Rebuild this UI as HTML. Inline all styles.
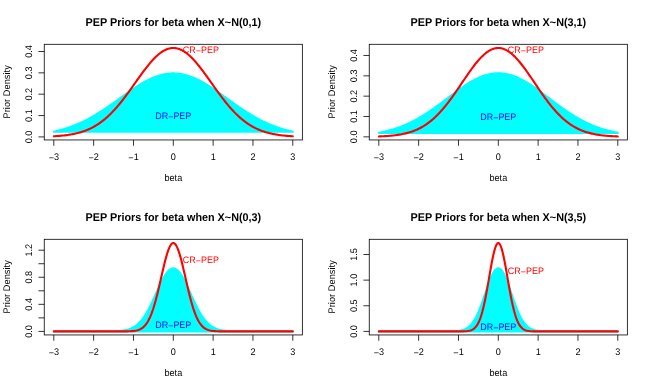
<!DOCTYPE html>
<html><head><meta charset="utf-8"><title>PEP Priors</title>
<style>
html,body{margin:0;padding:0;background:#fff;overflow:hidden;}
svg{display:block;will-change:transform;}
text{font-family:"Liberation Sans",sans-serif;fill:#000;text-rendering:geometricPrecision;}
.t{font-size:10.82px;font-weight:bold;text-anchor:middle;}
.a{font-size:9.1px;text-anchor:middle;}
</style></head><body>
<svg width="650" height="390" viewBox="0 0 650 390">
<rect width="650" height="390" fill="#fff"/>
<g transform="translate(0,0)">
<polygon points="53.81,131.69 54.81,131.47 55.80,131.24 56.80,131.01 57.79,130.77 58.79,130.51 59.78,130.26 60.78,129.99 61.78,129.71 62.77,129.43 63.77,129.14 64.76,128.84 65.76,128.53 66.75,128.21 67.75,127.88 68.75,127.54 69.74,127.20 70.74,126.84 71.73,126.48 72.73,126.10 73.72,125.72 74.72,125.33 75.72,124.92 76.71,124.51 77.71,124.09 78.70,123.66 79.70,123.22 80.70,122.76 81.69,122.30 82.69,121.83 83.68,121.35 84.68,120.86 85.67,120.36 86.67,119.85 87.67,119.33 88.66,118.80 89.66,118.26 90.65,117.71 91.65,117.15 92.64,116.58 93.64,116.01 94.64,115.42 95.63,114.83 96.63,114.23 97.62,113.62 98.62,113.00 99.61,112.37 100.61,111.74 101.61,111.09 102.60,110.44 103.60,109.79 104.59,109.13 105.59,108.46 106.58,107.78 107.58,107.10 108.58,106.42 109.57,105.73 110.57,105.03 111.56,104.33 112.56,103.63 113.56,102.92 114.55,102.21 115.55,101.50 116.54,100.78 117.54,100.07 118.53,99.35 119.53,98.63 120.53,97.92 121.52,97.20 122.52,96.48 123.51,95.77 124.51,95.05 125.50,94.34 126.50,93.63 127.50,92.93 128.49,92.23 129.49,91.53 130.48,90.84 131.48,90.16 132.47,89.48 133.47,88.81 134.47,88.14 135.46,87.49 136.46,86.84 137.45,86.20 138.45,85.57 139.44,84.95 140.44,84.34 141.44,83.75 142.43,83.16 143.43,82.59 144.42,82.03 145.42,81.48 146.41,80.95 147.41,80.43 148.41,79.93 149.40,79.45 150.40,78.97 151.39,78.52 152.39,78.08 153.39,77.66 154.38,77.26 155.38,76.87 156.37,76.51 157.37,76.16 158.36,75.83 159.36,75.53 160.36,75.24 161.35,74.97 162.35,74.72 163.34,74.49 164.34,74.29 165.33,74.10 166.33,73.94 167.33,73.80 168.32,73.68 169.32,73.58 170.31,73.50 171.31,73.44 172.30,73.41 173.30,73.40 174.30,73.41 175.29,73.44 176.29,73.50 177.28,73.58 178.28,73.68 179.27,73.80 180.27,73.94 181.27,74.10 182.26,74.29 183.26,74.49 184.25,74.72 185.25,74.97 186.24,75.24 187.24,75.53 188.24,75.83 189.23,76.16 190.23,76.51 191.22,76.87 192.22,77.26 193.22,77.66 194.21,78.08 195.21,78.52 196.20,78.97 197.20,79.45 198.19,79.93 199.19,80.43 200.19,80.95 201.18,81.48 202.18,82.03 203.17,82.59 204.17,83.16 205.16,83.75 206.16,84.34 207.16,84.95 208.15,85.57 209.15,86.20 210.14,86.84 211.14,87.49 212.13,88.14 213.13,88.81 214.13,89.48 215.12,90.16 216.12,90.84 217.11,91.53 218.11,92.23 219.10,92.93 220.10,93.63 221.10,94.34 222.09,95.05 223.09,95.77 224.08,96.48 225.08,97.20 226.07,97.92 227.07,98.63 228.07,99.35 229.06,100.07 230.06,100.78 231.05,101.50 232.05,102.21 233.05,102.92 234.04,103.63 235.04,104.33 236.03,105.03 237.03,105.73 238.02,106.42 239.02,107.10 240.02,107.78 241.01,108.46 242.01,109.13 243.00,109.79 244.00,110.44 244.99,111.09 245.99,111.74 246.99,112.37 247.98,113.00 248.98,113.62 249.97,114.23 250.97,114.83 251.96,115.42 252.96,116.01 253.96,116.58 254.95,117.15 255.95,117.71 256.94,118.26 257.94,118.80 258.93,119.33 259.93,119.85 260.93,120.36 261.92,120.86 262.92,121.35 263.91,121.83 264.91,122.30 265.90,122.76 266.90,123.22 267.90,123.66 268.89,124.09 269.89,124.51 270.88,124.92 271.88,125.33 272.88,125.72 273.87,126.10 274.87,126.48 275.86,126.84 276.86,127.20 277.85,127.54 278.85,127.88 279.85,128.21 280.84,128.53 281.84,128.84 282.83,129.14 283.83,129.43 284.82,129.71 285.82,129.99 286.82,130.26 287.81,130.51 288.81,130.77 289.80,131.01 290.80,131.24 291.79,131.47 292.79,131.69" fill="#00ffff" stroke="#00ffff" stroke-width="2.1" stroke-linejoin="round"/>
<polyline points="53.81,136.24 54.81,136.18 55.80,136.12 56.80,136.06 57.79,135.99 58.79,135.91 59.78,135.83 60.78,135.75 61.78,135.66 62.77,135.56 63.77,135.45 64.76,135.34 65.76,135.22 66.75,135.10 67.75,134.96 68.75,134.82 69.74,134.66 70.74,134.50 71.73,134.33 72.73,134.14 73.72,133.95 74.72,133.74 75.72,133.52 76.71,133.29 77.71,133.04 78.70,132.78 79.70,132.51 80.70,132.22 81.69,131.92 82.69,131.60 83.68,131.26 84.68,130.91 85.67,130.53 86.67,130.14 87.67,129.73 88.66,129.30 89.66,128.85 90.65,128.38 91.65,127.89 92.64,127.38 93.64,126.84 94.64,126.28 95.63,125.70 96.63,125.09 97.62,124.46 98.62,123.80 99.61,123.12 100.61,122.41 101.61,121.68 102.60,120.92 103.60,120.13 104.59,119.32 105.59,118.48 106.58,117.62 107.58,116.72 108.58,115.80 109.57,114.86 110.57,113.88 111.56,112.88 112.56,111.85 113.56,110.80 114.55,109.72 115.55,108.62 116.54,107.49 117.54,106.33 118.53,105.16 119.53,103.96 120.53,102.73 121.52,101.49 122.52,100.23 123.51,98.94 124.51,97.64 125.50,96.33 126.50,94.99 127.50,93.64 128.49,92.28 129.49,90.91 130.48,89.53 131.48,88.14 132.47,86.74 133.47,85.34 134.47,83.93 135.46,82.52 136.46,81.12 137.45,79.71 138.45,78.32 139.44,76.92 140.44,75.54 141.44,74.17 142.43,72.81 143.43,71.46 144.42,70.13 145.42,68.83 146.41,67.54 147.41,66.28 148.41,65.04 149.40,63.83 150.40,62.65 151.39,61.51 152.39,60.39 153.39,59.32 154.38,58.28 155.38,57.28 156.37,56.33 157.37,55.42 158.36,54.56 159.36,53.74 160.36,52.97 161.35,52.25 162.35,51.59 163.34,50.98 164.34,50.42 165.33,49.92 166.33,49.47 167.33,49.08 168.32,48.75 169.32,48.48 170.31,48.27 171.31,48.12 172.30,48.03 173.30,48.00 174.30,48.03 175.29,48.12 176.29,48.27 177.28,48.48 178.28,48.75 179.27,49.08 180.27,49.47 181.27,49.92 182.26,50.42 183.26,50.98 184.25,51.59 185.25,52.25 186.24,52.97 187.24,53.74 188.24,54.56 189.23,55.42 190.23,56.33 191.22,57.28 192.22,58.28 193.22,59.32 194.21,60.39 195.21,61.51 196.20,62.65 197.20,63.83 198.19,65.04 199.19,66.28 200.19,67.54 201.18,68.83 202.18,70.13 203.17,71.46 204.17,72.81 205.16,74.17 206.16,75.54 207.16,76.92 208.15,78.32 209.15,79.71 210.14,81.12 211.14,82.52 212.13,83.93 213.13,85.34 214.13,86.74 215.12,88.14 216.12,89.53 217.11,90.91 218.11,92.28 219.10,93.64 220.10,94.99 221.10,96.33 222.09,97.64 223.09,98.94 224.08,100.23 225.08,101.49 226.07,102.73 227.07,103.96 228.07,105.16 229.06,106.33 230.06,107.49 231.05,108.62 232.05,109.72 233.05,110.80 234.04,111.85 235.04,112.88 236.03,113.88 237.03,114.86 238.02,115.80 239.02,116.72 240.02,117.62 241.01,118.48 242.01,119.32 243.00,120.13 244.00,120.92 244.99,121.68 245.99,122.41 246.99,123.12 247.98,123.80 248.98,124.46 249.97,125.09 250.97,125.70 251.96,126.28 252.96,126.84 253.96,127.38 254.95,127.89 255.95,128.38 256.94,128.85 257.94,129.30 258.93,129.73 259.93,130.14 260.93,130.53 261.92,130.91 262.92,131.26 263.91,131.60 264.91,131.92 265.90,132.22 266.90,132.51 267.90,132.78 268.89,133.04 269.89,133.29 270.88,133.52 271.88,133.74 272.88,133.95 273.87,134.14 274.87,134.33 275.86,134.50 276.86,134.66 277.85,134.82 278.85,134.96 279.85,135.10 280.84,135.22 281.84,135.34 282.83,135.45 283.83,135.56 284.82,135.66 285.82,135.75 286.82,135.83 287.81,135.91 288.81,135.99 289.80,136.06 290.80,136.12 291.79,136.18 292.79,136.24" fill="none" stroke="#ff0000" stroke-width="2.1" stroke-linejoin="round" stroke-linecap="round"/>
<rect x="44.25" y="44.3" width="258.1" height="95.64999999999999" fill="none" stroke="#000" stroke-width="0.8"/>
<path d="M53.81,139.95v5.8M93.64,139.95v5.8M133.47,139.95v5.8M173.30,139.95v5.8M213.13,139.95v5.8M252.96,139.95v5.8M292.79,139.95v5.8M44.25,136.90h-5.8M44.25,115.55h-5.8M44.25,94.20h-5.8M44.25,72.85h-5.8M44.25,51.50h-5.8" fill="none" stroke="#000" stroke-width="0.8"/>
<text class="a" transform="translate(53.86,160.00) scale(1,1.05)"><tspan dy="0.9">−</tspan><tspan dy="-0.9">3</tspan></text>
<text class="a" transform="translate(93.69,160.00) scale(1,1.05)"><tspan dy="0.9">−</tspan><tspan dy="-0.9">2</tspan></text>
<text class="a" transform="translate(133.52,160.00) scale(1,1.05)"><tspan dy="0.9">−</tspan><tspan dy="-0.9">1</tspan></text>
<text class="a" transform="translate(173.35,160.00) scale(1,1.05)">0</text>
<text class="a" transform="translate(213.18,160.00) scale(1,1.05)">1</text>
<text class="a" transform="translate(253.01,160.00) scale(1,1.05)">2</text>
<text class="a" transform="translate(292.84,160.00) scale(1,1.05)">3</text>
<text class="a" transform="translate(32.40,136.90) rotate(-90) scale(1,1.05)">0.0</text>
<text class="a" transform="translate(32.40,115.55) rotate(-90) scale(1,1.05)">0.1</text>
<text class="a" transform="translate(32.40,94.20) rotate(-90) scale(1,1.05)">0.2</text>
<text class="a" transform="translate(32.40,72.85) rotate(-90) scale(1,1.05)">0.3</text>
<text class="a" transform="translate(32.40,51.50) rotate(-90) scale(1,1.05)">0.4</text>
<text class="t" transform="translate(173.40,25.85) scale(1,1.04)">PEP Priors for beta when X~N(0,1)</text>
<text class="a" transform="translate(173.35,181.00) scale(1,1.05)">beta</text>
<text class="a" transform="translate(10.30,91.83) rotate(-90) scale(1,1.05)" style="letter-spacing:0.1px">Prior Density</text>
<text class="a" transform="translate(200.88,52.88) scale(1,1.05)" style="fill:#ff0000;font-size:8.95px">CR<tspan dy="1.0">−</tspan><tspan dy="-1.0">PEP</tspan></text>
<text class="a" transform="translate(173.25,118.95) scale(1,1.05)" style="fill:#0000ff;font-size:8.95px">DR<tspan dy="1.0">−</tspan><tspan dy="-1.0">PEP</tspan></text>
</g>
<g transform="translate(325,0)">
<polygon points="53.81,132.84 54.81,132.65 55.80,132.46 56.80,132.26 57.79,132.05 58.79,131.83 59.78,131.60 60.78,131.37 61.78,131.13 62.77,130.88 63.77,130.62 64.76,130.35 65.76,130.07 66.75,129.79 67.75,129.49 68.75,129.19 69.74,128.88 70.74,128.55 71.73,128.22 72.73,127.88 73.72,127.52 74.72,127.16 75.72,126.79 76.71,126.40 77.71,126.01 78.70,125.60 79.70,125.19 80.70,124.76 81.69,124.33 82.69,123.88 83.68,123.42 84.68,122.95 85.67,122.47 86.67,121.98 87.67,121.47 88.66,120.96 89.66,120.44 90.65,119.90 91.65,119.36 92.64,118.80 93.64,118.24 94.64,117.66 95.63,117.07 96.63,116.47 97.62,115.87 98.62,115.25 99.61,114.62 100.61,113.99 101.61,113.34 102.60,112.69 103.60,112.02 104.59,111.35 105.59,110.67 106.58,109.98 107.58,109.29 108.58,108.59 109.57,107.88 110.57,107.16 111.56,106.44 112.56,105.72 113.56,104.99 114.55,104.25 115.55,103.51 116.54,102.76 117.54,102.02 118.53,101.27 119.53,100.51 120.53,99.76 121.52,99.00 122.52,98.25 123.51,97.49 124.51,96.74 125.50,95.98 126.50,95.23 127.50,94.48 128.49,93.74 129.49,92.99 130.48,92.25 131.48,91.52 132.47,90.79 133.47,90.07 134.47,89.35 135.46,88.65 136.46,87.95 137.45,87.26 138.45,86.58 139.44,85.91 140.44,85.25 141.44,84.60 142.43,83.96 143.43,83.34 144.42,82.73 145.42,82.14 146.41,81.56 147.41,80.99 148.41,80.44 149.40,79.91 150.40,79.39 151.39,78.89 152.39,78.41 153.39,77.95 154.38,77.51 155.38,77.08 156.37,76.68 157.37,76.30 158.36,75.94 159.36,75.60 160.36,75.28 161.35,74.98 162.35,74.71 163.34,74.46 164.34,74.23 165.33,74.03 166.33,73.84 167.33,73.69 168.32,73.55 169.32,73.44 170.31,73.36 171.31,73.30 172.30,73.26 173.30,73.25 174.30,73.26 175.29,73.30 176.29,73.36 177.28,73.44 178.28,73.55 179.27,73.69 180.27,73.84 181.27,74.03 182.26,74.23 183.26,74.46 184.25,74.71 185.25,74.98 186.24,75.28 187.24,75.60 188.24,75.94 189.23,76.30 190.23,76.68 191.22,77.08 192.22,77.51 193.22,77.95 194.21,78.41 195.21,78.89 196.20,79.39 197.20,79.91 198.19,80.44 199.19,80.99 200.19,81.56 201.18,82.14 202.18,82.73 203.17,83.34 204.17,83.96 205.16,84.60 206.16,85.25 207.16,85.91 208.15,86.58 209.15,87.26 210.14,87.95 211.14,88.65 212.13,89.35 213.13,90.07 214.13,90.79 215.12,91.52 216.12,92.25 217.11,92.99 218.11,93.74 219.10,94.48 220.10,95.23 221.10,95.98 222.09,96.74 223.09,97.49 224.08,98.25 225.08,99.00 226.07,99.76 227.07,100.51 228.07,101.27 229.06,102.02 230.06,102.76 231.05,103.51 232.05,104.25 233.05,104.99 234.04,105.72 235.04,106.44 236.03,107.16 237.03,107.88 238.02,108.59 239.02,109.29 240.02,109.98 241.01,110.67 242.01,111.35 243.00,112.02 244.00,112.69 244.99,113.34 245.99,113.99 246.99,114.62 247.98,115.25 248.98,115.87 249.97,116.47 250.97,117.07 251.96,117.66 252.96,118.24 253.96,118.80 254.95,119.36 255.95,119.90 256.94,120.44 257.94,120.96 258.93,121.47 259.93,121.98 260.93,122.47 261.92,122.95 262.92,123.42 263.91,123.88 264.91,124.33 265.90,124.76 266.90,125.19 267.90,125.60 268.89,126.01 269.89,126.40 270.88,126.79 271.88,127.16 272.88,127.52 273.87,127.88 274.87,128.22 275.86,128.55 276.86,128.88 277.85,129.19 278.85,129.49 279.85,129.79 280.84,130.07 281.84,130.35 282.83,130.62 283.83,130.88 284.82,131.13 285.82,131.37 286.82,131.60 287.81,131.83 288.81,132.05 289.80,132.26 290.80,132.46 291.79,132.65 292.79,132.84" fill="#00ffff" stroke="#00ffff" stroke-width="2.1" stroke-linejoin="round"/>
<polyline points="53.81,136.45 54.81,136.41 55.80,136.37 56.80,136.32 57.79,136.28 58.79,136.22 59.78,136.17 60.78,136.11 61.78,136.04 62.77,135.97 63.77,135.90 64.76,135.81 65.76,135.73 66.75,135.63 67.75,135.53 68.75,135.42 69.74,135.31 70.74,135.18 71.73,135.05 72.73,134.91 73.72,134.75 74.72,134.59 75.72,134.42 76.71,134.23 77.71,134.04 78.70,133.83 79.70,133.61 80.70,133.37 81.69,133.12 82.69,132.86 83.68,132.58 84.68,132.28 85.67,131.97 86.67,131.64 87.67,131.29 88.66,130.92 89.66,130.53 90.65,130.12 91.65,129.70 92.64,129.25 93.64,128.77 94.64,128.28 95.63,127.76 96.63,127.21 97.62,126.64 98.62,126.05 99.61,125.43 100.61,124.78 101.61,124.11 102.60,123.41 103.60,122.68 104.59,121.92 105.59,121.14 106.58,120.32 107.58,119.48 108.58,118.60 109.57,117.70 110.57,116.77 111.56,115.80 112.56,114.81 113.56,113.79 114.55,112.74 115.55,111.66 116.54,110.55 117.54,109.41 118.53,108.24 119.53,107.05 120.53,105.83 121.52,104.59 122.52,103.32 123.51,102.03 124.51,100.71 125.50,99.37 126.50,98.02 127.50,96.64 128.49,95.24 129.49,93.83 130.48,92.41 131.48,90.97 132.47,89.52 133.47,88.06 134.47,86.60 135.46,85.13 136.46,83.65 137.45,82.18 138.45,80.70 139.44,79.23 140.44,77.77 141.44,76.31 142.43,74.86 143.43,73.43 144.42,72.01 145.42,70.61 146.41,69.24 147.41,67.88 148.41,66.55 149.40,65.25 150.40,63.97 151.39,62.74 152.39,61.53 153.39,60.37 154.38,59.24 155.38,58.16 156.37,57.12 157.37,56.13 158.36,55.18 159.36,54.29 160.36,53.45 161.35,52.67 162.35,51.94 163.34,51.27 164.34,50.66 165.33,50.11 166.33,49.62 167.33,49.19 168.32,48.83 169.32,48.53 170.31,48.30 171.31,48.13 172.30,48.03 173.30,48.00 174.30,48.03 175.29,48.13 176.29,48.30 177.28,48.53 178.28,48.83 179.27,49.19 180.27,49.62 181.27,50.11 182.26,50.66 183.26,51.27 184.25,51.94 185.25,52.67 186.24,53.45 187.24,54.29 188.24,55.18 189.23,56.13 190.23,57.12 191.22,58.16 192.22,59.24 193.22,60.37 194.21,61.53 195.21,62.74 196.20,63.97 197.20,65.25 198.19,66.55 199.19,67.88 200.19,69.24 201.18,70.61 202.18,72.01 203.17,73.43 204.17,74.86 205.16,76.31 206.16,77.77 207.16,79.23 208.15,80.70 209.15,82.18 210.14,83.65 211.14,85.13 212.13,86.60 213.13,88.06 214.13,89.52 215.12,90.97 216.12,92.41 217.11,93.83 218.11,95.24 219.10,96.64 220.10,98.02 221.10,99.37 222.09,100.71 223.09,102.03 224.08,103.32 225.08,104.59 226.07,105.83 227.07,107.05 228.07,108.24 229.06,109.41 230.06,110.55 231.05,111.66 232.05,112.74 233.05,113.79 234.04,114.81 235.04,115.80 236.03,116.77 237.03,117.70 238.02,118.60 239.02,119.48 240.02,120.32 241.01,121.14 242.01,121.92 243.00,122.68 244.00,123.41 244.99,124.11 245.99,124.78 246.99,125.43 247.98,126.05 248.98,126.64 249.97,127.21 250.97,127.76 251.96,128.28 252.96,128.77 253.96,129.25 254.95,129.70 255.95,130.12 256.94,130.53 257.94,130.92 258.93,131.29 259.93,131.64 260.93,131.97 261.92,132.28 262.92,132.58 263.91,132.86 264.91,133.12 265.90,133.37 266.90,133.61 267.90,133.83 268.89,134.04 269.89,134.23 270.88,134.42 271.88,134.59 272.88,134.75 273.87,134.91 274.87,135.05 275.86,135.18 276.86,135.31 277.85,135.42 278.85,135.53 279.85,135.63 280.84,135.73 281.84,135.81 282.83,135.90 283.83,135.97 284.82,136.04 285.82,136.11 286.82,136.17 287.81,136.22 288.81,136.28 289.80,136.32 290.80,136.37 291.79,136.41 292.79,136.45" fill="none" stroke="#ff0000" stroke-width="2.1" stroke-linejoin="round" stroke-linecap="round"/>
<rect x="44.25" y="44.3" width="258.1" height="95.64999999999999" fill="none" stroke="#000" stroke-width="0.8"/>
<path d="M53.81,139.95v5.8M93.64,139.95v5.8M133.47,139.95v5.8M173.30,139.95v5.8M213.13,139.95v5.8M252.96,139.95v5.8M292.79,139.95v5.8M44.25,136.85h-5.8M44.25,116.51h-5.8M44.25,96.17h-5.8M44.25,75.83h-5.8M44.25,55.49h-5.8" fill="none" stroke="#000" stroke-width="0.8"/>
<text class="a" transform="translate(53.86,160.00) scale(1,1.05)"><tspan dy="0.9">−</tspan><tspan dy="-0.9">3</tspan></text>
<text class="a" transform="translate(93.69,160.00) scale(1,1.05)"><tspan dy="0.9">−</tspan><tspan dy="-0.9">2</tspan></text>
<text class="a" transform="translate(133.52,160.00) scale(1,1.05)"><tspan dy="0.9">−</tspan><tspan dy="-0.9">1</tspan></text>
<text class="a" transform="translate(173.35,160.00) scale(1,1.05)">0</text>
<text class="a" transform="translate(213.18,160.00) scale(1,1.05)">1</text>
<text class="a" transform="translate(253.01,160.00) scale(1,1.05)">2</text>
<text class="a" transform="translate(292.84,160.00) scale(1,1.05)">3</text>
<text class="a" transform="translate(32.40,136.85) rotate(-90) scale(1,1.05)">0.0</text>
<text class="a" transform="translate(32.40,116.51) rotate(-90) scale(1,1.05)">0.1</text>
<text class="a" transform="translate(32.40,96.17) rotate(-90) scale(1,1.05)">0.2</text>
<text class="a" transform="translate(32.40,75.83) rotate(-90) scale(1,1.05)">0.3</text>
<text class="a" transform="translate(32.40,55.49) rotate(-90) scale(1,1.05)">0.4</text>
<text class="t" transform="translate(173.40,25.85) scale(1,1.04)">PEP Priors for beta when X~N(3,1)</text>
<text class="a" transform="translate(173.35,181.00) scale(1,1.05)">beta</text>
<text class="a" transform="translate(10.30,91.83) rotate(-90) scale(1,1.05)" style="letter-spacing:0.1px">Prior Density</text>
<text class="a" transform="translate(200.88,52.69) scale(1,1.05)" style="fill:#ff0000;font-size:8.95px">CR<tspan dy="1.0">−</tspan><tspan dy="-1.0">PEP</tspan></text>
<text class="a" transform="translate(173.25,119.91) scale(1,1.05)" style="fill:#0000ff;font-size:8.95px">DR<tspan dy="1.0">−</tspan><tspan dy="-1.0">PEP</tspan></text>
</g>
<g transform="translate(0,195)">
<polygon points="53.81,136.40 54.81,136.40 55.80,136.40 56.80,136.40 57.79,136.40 58.79,136.40 59.78,136.40 60.78,136.40 61.78,136.40 62.77,136.40 63.77,136.40 64.76,136.40 65.76,136.40 66.75,136.40 67.75,136.40 68.75,136.40 69.74,136.40 70.74,136.40 71.73,136.40 72.73,136.40 73.72,136.40 74.72,136.40 75.72,136.40 76.71,136.40 77.71,136.40 78.70,136.40 79.70,136.40 80.70,136.40 81.69,136.40 82.69,136.40 83.68,136.40 84.68,136.40 85.67,136.40 86.67,136.40 87.67,136.40 88.66,136.40 89.66,136.40 90.65,136.40 91.65,136.40 92.64,136.40 93.64,136.40 94.64,136.40 95.63,136.40 96.63,136.40 97.62,136.40 98.62,136.40 99.61,136.39 100.61,136.39 101.61,136.39 102.60,136.39 103.60,136.38 104.59,136.38 105.59,136.38 106.58,136.37 107.58,136.36 108.58,136.35 109.57,136.34 110.57,136.33 111.56,136.31 112.56,136.29 113.56,136.26 114.55,136.23 115.55,136.19 116.54,136.15 117.54,136.10 118.53,136.03 119.53,135.96 120.53,135.87 121.52,135.77 122.52,135.65 123.51,135.51 124.51,135.34 125.50,135.15 126.50,134.93 127.50,134.68 128.49,134.39 129.49,134.07 130.48,133.69 131.48,133.27 132.47,132.80 133.47,132.26 134.47,131.67 135.46,131.01 136.46,130.27 137.45,129.46 138.45,128.57 139.44,127.59 140.44,126.53 141.44,125.38 142.43,124.13 143.43,122.78 144.42,121.35 145.42,119.81 146.41,118.18 147.41,116.46 148.41,114.66 149.40,112.76 150.40,110.80 151.39,108.76 152.39,106.66 153.39,104.51 154.38,102.32 155.38,100.10 156.37,97.88 157.37,95.65 158.36,93.44 159.36,91.27 160.36,89.14 161.35,87.09 162.35,85.12 163.34,83.25 164.34,81.51 165.33,79.90 166.33,78.43 167.33,77.14 168.32,76.02 169.32,75.09 170.31,74.35 171.31,73.82 172.30,73.50 173.30,73.39 174.30,73.50 175.29,73.82 176.29,74.35 177.28,75.09 178.28,76.02 179.27,77.14 180.27,78.43 181.27,79.90 182.26,81.51 183.26,83.25 184.25,85.12 185.25,87.09 186.24,89.14 187.24,91.27 188.24,93.44 189.23,95.65 190.23,97.88 191.22,100.10 192.22,102.32 193.22,104.51 194.21,106.66 195.21,108.76 196.20,110.80 197.20,112.76 198.19,114.66 199.19,116.46 200.19,118.18 201.18,119.81 202.18,121.35 203.17,122.78 204.17,124.13 205.16,125.38 206.16,126.53 207.16,127.59 208.15,128.57 209.15,129.46 210.14,130.27 211.14,131.01 212.13,131.67 213.13,132.26 214.13,132.80 215.12,133.27 216.12,133.69 217.11,134.07 218.11,134.39 219.10,134.68 220.10,134.93 221.10,135.15 222.09,135.34 223.09,135.51 224.08,135.65 225.08,135.77 226.07,135.87 227.07,135.96 228.07,136.03 229.06,136.10 230.06,136.15 231.05,136.19 232.05,136.23 233.05,136.26 234.04,136.29 235.04,136.31 236.03,136.33 237.03,136.34 238.02,136.35 239.02,136.36 240.02,136.37 241.01,136.38 242.01,136.38 243.00,136.38 244.00,136.39 244.99,136.39 245.99,136.39 246.99,136.39 247.98,136.40 248.98,136.40 249.97,136.40 250.97,136.40 251.96,136.40 252.96,136.40 253.96,136.40 254.95,136.40 255.95,136.40 256.94,136.40 257.94,136.40 258.93,136.40 259.93,136.40 260.93,136.40 261.92,136.40 262.92,136.40 263.91,136.40 264.91,136.40 265.90,136.40 266.90,136.40 267.90,136.40 268.89,136.40 269.89,136.40 270.88,136.40 271.88,136.40 272.88,136.40 273.87,136.40 274.87,136.40 275.86,136.40 276.86,136.40 277.85,136.40 278.85,136.40 279.85,136.40 280.84,136.40 281.84,136.40 282.83,136.40 283.83,136.40 284.82,136.40 285.82,136.40 286.82,136.40 287.81,136.40 288.81,136.40 289.80,136.40 290.80,136.40 291.79,136.40 292.79,136.40" fill="#00ffff" stroke="#00ffff" stroke-width="2.1" stroke-linejoin="round"/>
<polyline points="53.81,136.40 54.81,136.40 55.80,136.40 56.80,136.40 57.79,136.40 58.79,136.40 59.78,136.40 60.78,136.40 61.78,136.40 62.77,136.40 63.77,136.40 64.76,136.40 65.76,136.40 66.75,136.40 67.75,136.40 68.75,136.40 69.74,136.40 70.74,136.40 71.73,136.40 72.73,136.40 73.72,136.40 74.72,136.40 75.72,136.40 76.71,136.40 77.71,136.40 78.70,136.40 79.70,136.40 80.70,136.40 81.69,136.40 82.69,136.40 83.68,136.40 84.68,136.40 85.67,136.40 86.67,136.40 87.67,136.40 88.66,136.40 89.66,136.40 90.65,136.40 91.65,136.40 92.64,136.40 93.64,136.40 94.64,136.40 95.63,136.40 96.63,136.40 97.62,136.40 98.62,136.40 99.61,136.40 100.61,136.40 101.61,136.40 102.60,136.40 103.60,136.40 104.59,136.40 105.59,136.40 106.58,136.40 107.58,136.40 108.58,136.40 109.57,136.40 110.57,136.40 111.56,136.40 112.56,136.40 113.56,136.40 114.55,136.40 115.55,136.40 116.54,136.40 117.54,136.40 118.53,136.40 119.53,136.39 120.53,136.39 121.52,136.39 122.52,136.39 123.51,136.38 124.51,136.37 125.50,136.36 126.50,136.35 127.50,136.33 128.49,136.30 129.49,136.27 130.48,136.22 131.48,136.16 132.47,136.08 133.47,135.98 134.47,135.86 135.46,135.70 136.46,135.50 137.45,135.25 138.45,134.94 139.44,134.56 140.44,134.10 141.44,133.54 142.43,132.87 143.43,132.07 144.42,131.12 145.42,130.01 146.41,128.72 147.41,127.22 148.41,125.51 149.40,123.57 150.40,121.38 151.39,118.94 152.39,116.23 153.39,113.26 154.38,110.03 155.38,106.55 156.37,102.83 157.37,98.91 158.36,94.81 159.36,90.56 160.36,86.22 161.35,81.84 162.35,77.47 163.34,73.17 164.34,69.01 165.33,65.06 166.33,61.39 167.33,58.05 168.32,55.10 169.32,52.61 170.31,50.63 171.31,49.18 172.30,48.30 173.30,48.00 174.30,48.30 175.29,49.18 176.29,50.63 177.28,52.61 178.28,55.10 179.27,58.05 180.27,61.39 181.27,65.06 182.26,69.01 183.26,73.17 184.25,77.47 185.25,81.84 186.24,86.22 187.24,90.56 188.24,94.81 189.23,98.91 190.23,102.83 191.22,106.55 192.22,110.03 193.22,113.26 194.21,116.23 195.21,118.94 196.20,121.38 197.20,123.57 198.19,125.51 199.19,127.22 200.19,128.72 201.18,130.01 202.18,131.12 203.17,132.07 204.17,132.87 205.16,133.54 206.16,134.10 207.16,134.56 208.15,134.94 209.15,135.25 210.14,135.50 211.14,135.70 212.13,135.86 213.13,135.98 214.13,136.08 215.12,136.16 216.12,136.22 217.11,136.27 218.11,136.30 219.10,136.33 220.10,136.35 221.10,136.36 222.09,136.37 223.09,136.38 224.08,136.39 225.08,136.39 226.07,136.39 227.07,136.39 228.07,136.40 229.06,136.40 230.06,136.40 231.05,136.40 232.05,136.40 233.05,136.40 234.04,136.40 235.04,136.40 236.03,136.40 237.03,136.40 238.02,136.40 239.02,136.40 240.02,136.40 241.01,136.40 242.01,136.40 243.00,136.40 244.00,136.40 244.99,136.40 245.99,136.40 246.99,136.40 247.98,136.40 248.98,136.40 249.97,136.40 250.97,136.40 251.96,136.40 252.96,136.40 253.96,136.40 254.95,136.40 255.95,136.40 256.94,136.40 257.94,136.40 258.93,136.40 259.93,136.40 260.93,136.40 261.92,136.40 262.92,136.40 263.91,136.40 264.91,136.40 265.90,136.40 266.90,136.40 267.90,136.40 268.89,136.40 269.89,136.40 270.88,136.40 271.88,136.40 272.88,136.40 273.87,136.40 274.87,136.40 275.86,136.40 276.86,136.40 277.85,136.40 278.85,136.40 279.85,136.40 280.84,136.40 281.84,136.40 282.83,136.40 283.83,136.40 284.82,136.40 285.82,136.40 286.82,136.40 287.81,136.40 288.81,136.40 289.80,136.40 290.80,136.40 291.79,136.40 292.79,136.40" fill="none" stroke="#ff0000" stroke-width="2.1" stroke-linejoin="round" stroke-linecap="round"/>
<rect x="44.25" y="44.3" width="258.1" height="95.64999999999999" fill="none" stroke="#000" stroke-width="0.8"/>
<path d="M53.81,139.95v5.8M93.64,139.95v5.8M133.47,139.95v5.8M173.30,139.95v5.8M213.13,139.95v5.8M252.96,139.95v5.8M292.79,139.95v5.8M44.25,136.40h-5.8M44.25,122.87h-5.8M44.25,109.33h-5.8M44.25,95.80h-5.8M44.25,82.26h-5.8M44.25,68.73h-5.8M44.25,55.20h-5.8" fill="none" stroke="#000" stroke-width="0.8"/>
<text class="a" transform="translate(53.86,160.00) scale(1,1.05)"><tspan dy="0.9">−</tspan><tspan dy="-0.9">3</tspan></text>
<text class="a" transform="translate(93.69,160.00) scale(1,1.05)"><tspan dy="0.9">−</tspan><tspan dy="-0.9">2</tspan></text>
<text class="a" transform="translate(133.52,160.00) scale(1,1.05)"><tspan dy="0.9">−</tspan><tspan dy="-0.9">1</tspan></text>
<text class="a" transform="translate(173.35,160.00) scale(1,1.05)">0</text>
<text class="a" transform="translate(213.18,160.00) scale(1,1.05)">1</text>
<text class="a" transform="translate(253.01,160.00) scale(1,1.05)">2</text>
<text class="a" transform="translate(292.84,160.00) scale(1,1.05)">3</text>
<text class="a" transform="translate(32.40,136.40) rotate(-90) scale(1,1.05)">0.0</text>
<text class="a" transform="translate(32.40,109.33) rotate(-90) scale(1,1.05)">0.4</text>
<text class="a" transform="translate(32.40,82.26) rotate(-90) scale(1,1.05)">0.8</text>
<text class="a" transform="translate(32.40,55.20) rotate(-90) scale(1,1.05)">1.2</text>
<text class="t" transform="translate(173.40,25.85) scale(1,1.04)">PEP Priors for beta when X~N(0,3)</text>
<text class="a" transform="translate(173.35,181.00) scale(1,1.05)">beta</text>
<text class="a" transform="translate(10.30,91.83) rotate(-90) scale(1,1.05)" style="letter-spacing:0.1px">Prior Density</text>
<text class="a" transform="translate(200.88,67.97) scale(1,1.05)" style="fill:#ff0000;font-size:8.95px">CR<tspan dy="1.0">−</tspan><tspan dy="-1.0">PEP</tspan></text>
<text class="a" transform="translate(173.25,133.03) scale(1,1.05)" style="fill:#0000ff;font-size:8.95px">DR<tspan dy="1.0">−</tspan><tspan dy="-1.0">PEP</tspan></text>
</g>
<g transform="translate(325,195)">
<polygon points="53.81,136.40 54.81,136.40 55.80,136.40 56.80,136.40 57.79,136.40 58.79,136.40 59.78,136.40 60.78,136.40 61.78,136.40 62.77,136.40 63.77,136.40 64.76,136.40 65.76,136.40 66.75,136.40 67.75,136.40 68.75,136.40 69.74,136.40 70.74,136.40 71.73,136.40 72.73,136.40 73.72,136.40 74.72,136.40 75.72,136.40 76.71,136.40 77.71,136.40 78.70,136.40 79.70,136.40 80.70,136.40 81.69,136.40 82.69,136.40 83.68,136.40 84.68,136.40 85.67,136.40 86.67,136.40 87.67,136.40 88.66,136.40 89.66,136.40 90.65,136.40 91.65,136.40 92.64,136.40 93.64,136.40 94.64,136.40 95.63,136.40 96.63,136.40 97.62,136.40 98.62,136.40 99.61,136.40 100.61,136.40 101.61,136.40 102.60,136.40 103.60,136.40 104.59,136.40 105.59,136.40 106.58,136.40 107.58,136.40 108.58,136.40 109.57,136.40 110.57,136.40 111.56,136.40 112.56,136.40 113.56,136.40 114.55,136.40 115.55,136.40 116.54,136.40 117.54,136.39 118.53,136.39 119.53,136.39 120.53,136.38 121.52,136.38 122.52,136.37 123.51,136.36 124.51,136.35 125.50,136.33 126.50,136.31 127.50,136.28 128.49,136.25 129.49,136.20 130.48,136.14 131.48,136.07 132.47,135.97 133.47,135.86 134.47,135.71 135.46,135.53 136.46,135.32 137.45,135.06 138.45,134.74 139.44,134.36 140.44,133.92 141.44,133.39 142.43,132.77 143.43,132.05 144.42,131.21 145.42,130.25 146.41,129.16 147.41,127.93 148.41,126.55 149.40,125.00 150.40,123.29 151.39,121.42 152.39,119.38 153.39,117.18 154.38,114.82 155.38,112.31 156.37,109.67 157.37,106.92 158.36,104.08 159.36,101.17 160.36,98.23 161.35,95.29 162.35,92.38 163.34,89.55 164.34,86.83 165.33,84.26 166.33,81.89 167.33,79.74 168.32,77.86 169.32,76.27 170.31,75.01 171.31,74.09 172.30,73.53 173.30,73.35 174.30,73.53 175.29,74.09 176.29,75.01 177.28,76.27 178.28,77.86 179.27,79.74 180.27,81.89 181.27,84.26 182.26,86.83 183.26,89.55 184.25,92.38 185.25,95.29 186.24,98.23 187.24,101.17 188.24,104.08 189.23,106.92 190.23,109.67 191.22,112.31 192.22,114.82 193.22,117.18 194.21,119.38 195.21,121.42 196.20,123.29 197.20,125.00 198.19,126.55 199.19,127.93 200.19,129.16 201.18,130.25 202.18,131.21 203.17,132.05 204.17,132.77 205.16,133.39 206.16,133.92 207.16,134.36 208.15,134.74 209.15,135.06 210.14,135.32 211.14,135.53 212.13,135.71 213.13,135.86 214.13,135.97 215.12,136.07 216.12,136.14 217.11,136.20 218.11,136.25 219.10,136.28 220.10,136.31 221.10,136.33 222.09,136.35 223.09,136.36 224.08,136.37 225.08,136.38 226.07,136.38 227.07,136.39 228.07,136.39 229.06,136.39 230.06,136.40 231.05,136.40 232.05,136.40 233.05,136.40 234.04,136.40 235.04,136.40 236.03,136.40 237.03,136.40 238.02,136.40 239.02,136.40 240.02,136.40 241.01,136.40 242.01,136.40 243.00,136.40 244.00,136.40 244.99,136.40 245.99,136.40 246.99,136.40 247.98,136.40 248.98,136.40 249.97,136.40 250.97,136.40 251.96,136.40 252.96,136.40 253.96,136.40 254.95,136.40 255.95,136.40 256.94,136.40 257.94,136.40 258.93,136.40 259.93,136.40 260.93,136.40 261.92,136.40 262.92,136.40 263.91,136.40 264.91,136.40 265.90,136.40 266.90,136.40 267.90,136.40 268.89,136.40 269.89,136.40 270.88,136.40 271.88,136.40 272.88,136.40 273.87,136.40 274.87,136.40 275.86,136.40 276.86,136.40 277.85,136.40 278.85,136.40 279.85,136.40 280.84,136.40 281.84,136.40 282.83,136.40 283.83,136.40 284.82,136.40 285.82,136.40 286.82,136.40 287.81,136.40 288.81,136.40 289.80,136.40 290.80,136.40 291.79,136.40 292.79,136.40" fill="#00ffff" stroke="#00ffff" stroke-width="2.1" stroke-linejoin="round"/>
<polyline points="53.81,136.40 54.81,136.40 55.80,136.40 56.80,136.40 57.79,136.40 58.79,136.40 59.78,136.40 60.78,136.40 61.78,136.40 62.77,136.40 63.77,136.40 64.76,136.40 65.76,136.40 66.75,136.40 67.75,136.40 68.75,136.40 69.74,136.40 70.74,136.40 71.73,136.40 72.73,136.40 73.72,136.40 74.72,136.40 75.72,136.40 76.71,136.40 77.71,136.40 78.70,136.40 79.70,136.40 80.70,136.40 81.69,136.40 82.69,136.40 83.68,136.40 84.68,136.40 85.67,136.40 86.67,136.40 87.67,136.40 88.66,136.40 89.66,136.40 90.65,136.40 91.65,136.40 92.64,136.40 93.64,136.40 94.64,136.40 95.63,136.40 96.63,136.40 97.62,136.40 98.62,136.40 99.61,136.40 100.61,136.40 101.61,136.40 102.60,136.40 103.60,136.40 104.59,136.40 105.59,136.40 106.58,136.40 107.58,136.40 108.58,136.40 109.57,136.40 110.57,136.40 111.56,136.40 112.56,136.40 113.56,136.40 114.55,136.40 115.55,136.40 116.54,136.40 117.54,136.40 118.53,136.40 119.53,136.40 120.53,136.40 121.52,136.40 122.52,136.40 123.51,136.40 124.51,136.40 125.50,136.40 126.50,136.40 127.50,136.40 128.49,136.40 129.49,136.40 130.48,136.40 131.48,136.40 132.47,136.40 133.47,136.39 134.47,136.39 135.46,136.38 136.46,136.37 137.45,136.35 138.45,136.33 139.44,136.30 140.44,136.25 141.44,136.18 142.43,136.08 143.43,135.94 144.42,135.75 145.42,135.49 146.41,135.15 147.41,134.69 148.41,134.10 149.40,133.34 150.40,132.37 151.39,131.16 152.39,129.66 153.39,127.84 154.38,125.65 155.38,123.06 156.37,120.04 157.37,116.56 158.36,112.63 159.36,108.24 160.36,103.44 161.35,98.26 162.35,92.78 163.34,87.09 164.34,81.31 165.33,75.56 166.33,69.99 167.33,64.75 168.32,60.00 169.32,55.88 170.31,52.52 171.31,50.04 172.30,48.51 173.30,48.00 174.30,48.51 175.29,50.04 176.29,52.52 177.28,55.88 178.28,60.00 179.27,64.75 180.27,69.99 181.27,75.56 182.26,81.31 183.26,87.09 184.25,92.78 185.25,98.26 186.24,103.44 187.24,108.24 188.24,112.63 189.23,116.56 190.23,120.04 191.22,123.06 192.22,125.65 193.22,127.84 194.21,129.66 195.21,131.16 196.20,132.37 197.20,133.34 198.19,134.10 199.19,134.69 200.19,135.15 201.18,135.49 202.18,135.75 203.17,135.94 204.17,136.08 205.16,136.18 206.16,136.25 207.16,136.30 208.15,136.33 209.15,136.35 210.14,136.37 211.14,136.38 212.13,136.39 213.13,136.39 214.13,136.40 215.12,136.40 216.12,136.40 217.11,136.40 218.11,136.40 219.10,136.40 220.10,136.40 221.10,136.40 222.09,136.40 223.09,136.40 224.08,136.40 225.08,136.40 226.07,136.40 227.07,136.40 228.07,136.40 229.06,136.40 230.06,136.40 231.05,136.40 232.05,136.40 233.05,136.40 234.04,136.40 235.04,136.40 236.03,136.40 237.03,136.40 238.02,136.40 239.02,136.40 240.02,136.40 241.01,136.40 242.01,136.40 243.00,136.40 244.00,136.40 244.99,136.40 245.99,136.40 246.99,136.40 247.98,136.40 248.98,136.40 249.97,136.40 250.97,136.40 251.96,136.40 252.96,136.40 253.96,136.40 254.95,136.40 255.95,136.40 256.94,136.40 257.94,136.40 258.93,136.40 259.93,136.40 260.93,136.40 261.92,136.40 262.92,136.40 263.91,136.40 264.91,136.40 265.90,136.40 266.90,136.40 267.90,136.40 268.89,136.40 269.89,136.40 270.88,136.40 271.88,136.40 272.88,136.40 273.87,136.40 274.87,136.40 275.86,136.40 276.86,136.40 277.85,136.40 278.85,136.40 279.85,136.40 280.84,136.40 281.84,136.40 282.83,136.40 283.83,136.40 284.82,136.40 285.82,136.40 286.82,136.40 287.81,136.40 288.81,136.40 289.80,136.40 290.80,136.40 291.79,136.40 292.79,136.40" fill="none" stroke="#ff0000" stroke-width="2.1" stroke-linejoin="round" stroke-linecap="round"/>
<rect x="44.25" y="44.3" width="258.1" height="95.64999999999999" fill="none" stroke="#000" stroke-width="0.8"/>
<path d="M53.81,139.95v5.8M93.64,139.95v5.8M133.47,139.95v5.8M173.30,139.95v5.8M213.13,139.95v5.8M252.96,139.95v5.8M292.79,139.95v5.8M44.25,136.40h-5.8M44.25,110.77h-5.8M44.25,85.13h-5.8M44.25,59.50h-5.8" fill="none" stroke="#000" stroke-width="0.8"/>
<text class="a" transform="translate(53.86,160.00) scale(1,1.05)"><tspan dy="0.9">−</tspan><tspan dy="-0.9">3</tspan></text>
<text class="a" transform="translate(93.69,160.00) scale(1,1.05)"><tspan dy="0.9">−</tspan><tspan dy="-0.9">2</tspan></text>
<text class="a" transform="translate(133.52,160.00) scale(1,1.05)"><tspan dy="0.9">−</tspan><tspan dy="-0.9">1</tspan></text>
<text class="a" transform="translate(173.35,160.00) scale(1,1.05)">0</text>
<text class="a" transform="translate(213.18,160.00) scale(1,1.05)">1</text>
<text class="a" transform="translate(253.01,160.00) scale(1,1.05)">2</text>
<text class="a" transform="translate(292.84,160.00) scale(1,1.05)">3</text>
<text class="a" transform="translate(32.40,136.40) rotate(-90) scale(1,1.05)">0.0</text>
<text class="a" transform="translate(32.40,110.77) rotate(-90) scale(1,1.05)">0.5</text>
<text class="a" transform="translate(32.40,85.13) rotate(-90) scale(1,1.05)">1.0</text>
<text class="a" transform="translate(32.40,59.50) rotate(-90) scale(1,1.05)">1.5</text>
<text class="t" transform="translate(173.40,25.85) scale(1,1.04)">PEP Priors for beta when X~N(3,5)</text>
<text class="a" transform="translate(173.35,181.00) scale(1,1.05)">beta</text>
<text class="a" transform="translate(10.30,91.83) rotate(-90) scale(1,1.05)" style="letter-spacing:0.1px">Prior Density</text>
<text class="a" transform="translate(200.88,78.69) scale(1,1.05)" style="fill:#ff0000;font-size:8.95px">CR<tspan dy="1.0">−</tspan><tspan dy="-1.0">PEP</tspan></text>
<text class="a" transform="translate(173.25,134.67) scale(1,1.05)" style="fill:#0000ff;font-size:8.95px">DR<tspan dy="1.0">−</tspan><tspan dy="-1.0">PEP</tspan></text>
</g>
</svg>
</body></html>
